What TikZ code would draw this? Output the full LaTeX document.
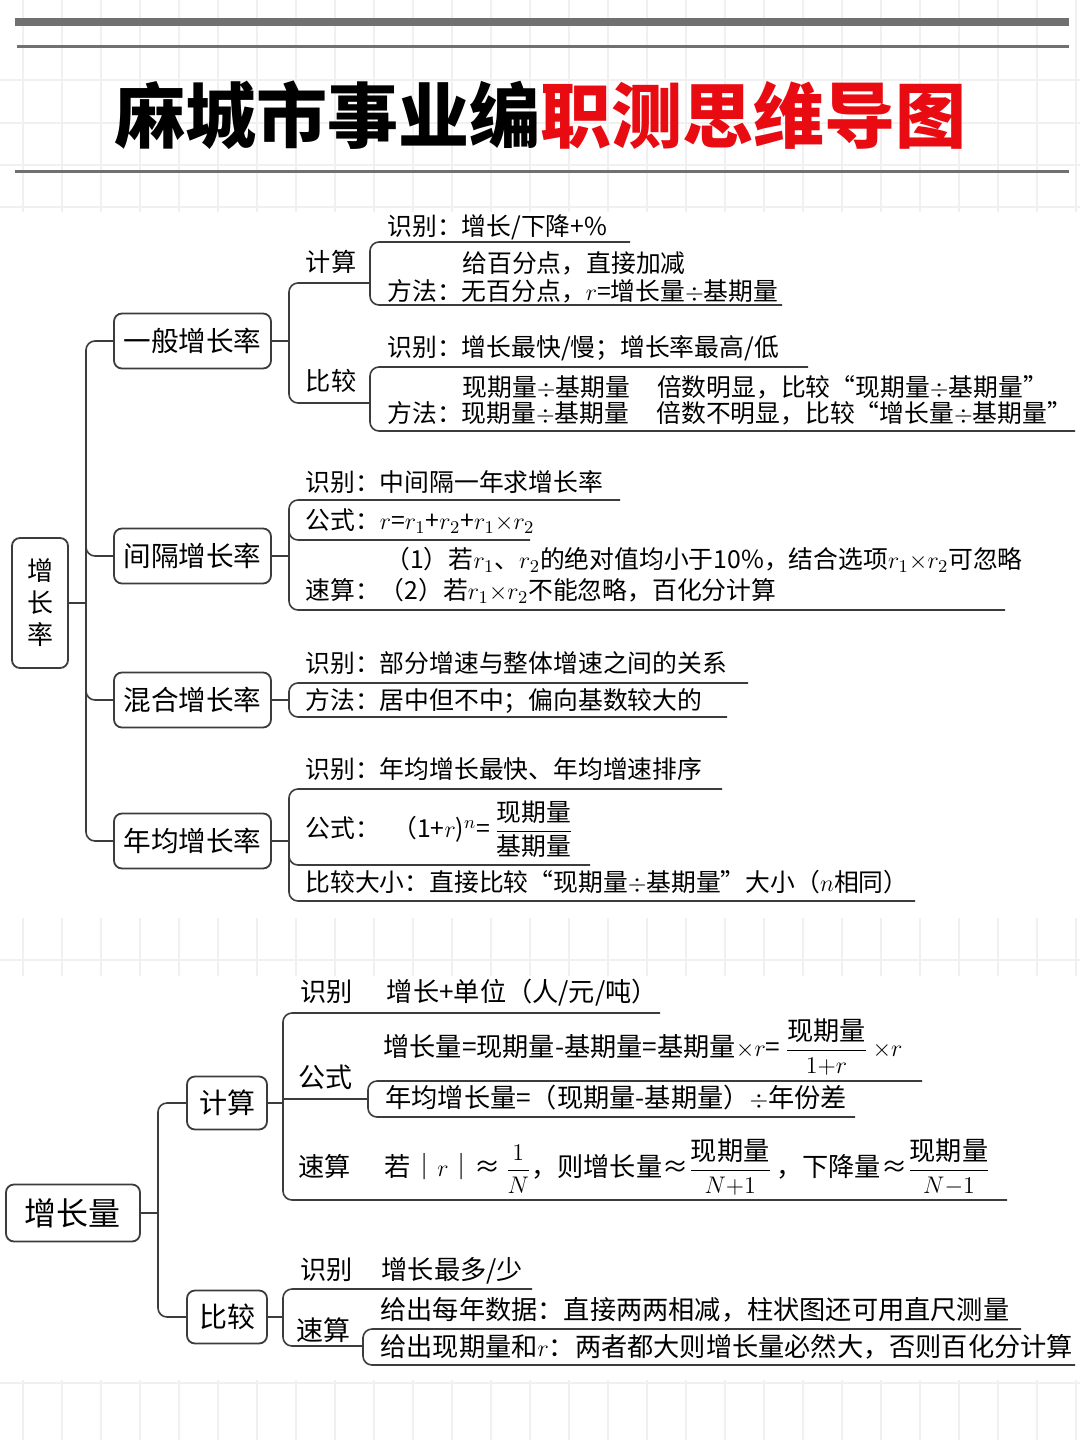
\documentclass[tikz,border=0pt]{standalone}
\usepackage{amsmath}
\usepackage{fontspec}
\setmainfont{Noto Sans CJK SC}
\usetikzlibrary{positioning}
\definecolor{linegray}{RGB}{60, 60, 60}
\definecolor{rulegray}{RGB}{112, 112, 112}
\definecolor{gridgray}{RGB}{240, 240, 240}
\definecolor{titlered}{RGB}{232, 12, 18}
\newcommand{\dv}{\ensuremath{{\div}}}
\newcommand{\tm}{\ensuremath{{\times}}}

\begin{document}
\begin{tikzpicture}[x=0.5pt, y=-0.5pt,
    link/.style={draw=linegray, line width=0.8pt, rounded corners=4.5pt},
    topic/.style={draw=linegray, line width=0.9pt, rounded corners=4pt, inner sep=0pt, align=center},
    tag/.style={inner sep=0pt, text height=0.88em, text depth=0.12em, font=\fontsize{12.6}{15}\selectfont},
    tagb/.style={tag, font=\fontsize{13.5}{16}\selectfont},
    leaf/.style={anchor=west, inner sep=0pt, text height=0.88em, text depth=0.12em, font=\fontsize{12.4}{15}\selectfont},
    leafb/.style={leaf, font=\fontsize{13.1}{16}\selectfont},
    fracleaf/.style={anchor=west, inner sep=0pt, font=\fontsize{12.4}{15}\selectfont},
    fracleafb/.style={fracleaf, font=\fontsize{13.1}{16}\selectfont}]
    \useasboundingbox (0,0) rectangle (1080,1440);
    \fill[white] (0,0) rectangle (1080,1440);

    % background grid, only where the page is empty
    \foreach \gx in {23,62,...,1080} {
        \draw[gridgray, line width=0.8pt] (\gx,0) -- (\gx,212);
        \draw[gridgray, line width=0.8pt] (\gx,918) -- (\gx,976);
        \draw[gridgray, line width=0.8pt] (\gx,1380) -- (\gx,1440);
    }
    \foreach \gy in {80,123,165,207,960,1383}
        \draw[gridgray, line width=0.8pt] (0,\gy) -- (1080,\gy);

    % title
    \draw[rulegray, line width=4pt] (15,22) -- (1069,22);
    \draw[rulegray, line width=1.5pt] (17,46) -- (1069,46);
    \draw[rulegray, line width=1.5pt] (15,171) -- (1069,171);
    \node[font=\fontsize{35.5}{40}\selectfont\bfseries, inner sep=0pt] (title) at (540,115)
        {麻城市事业编{\color{titlered}职测思维导图}};

    % ---- 增长率 ----
    \node[topic, minimum width=28pt, minimum height=65pt, font=\fontsize{13}{16}\selectfont] (zzl) at (40,603) {增\\长\\率};
    \node[topic, minimum width=78.5pt, minimum height=27.5pt, font=\fontsize{13.8}{16}\selectfont] (gen) at (192.5,341) {一般增长率};
    \node[topic, minimum width=78.5pt, minimum height=27.5pt, font=\fontsize{13.8}{16}\selectfont] (gap) at (192.5,556) {间隔增长率};
    \node[topic, minimum width=78.5pt, minimum height=27.5pt, font=\fontsize{13.8}{16}\selectfont] (mix) at (192.5,700) {混合增长率};
    \node[topic, minimum width=78.5pt, minimum height=27.5pt, font=\fontsize{13.8}{16}\selectfont] (avg) at (192.5,841) {年均增长率};

    \draw[link] (zzl.east) -- (86,603);
    \draw[link] (gen.west) -| (86,603) |- (avg.west);
    \draw[link] (86,530) |- (gap.west);
    \draw[link] (86,675) |- (mix.west);

    % 一般增长率
    \draw[link] (gen.east) -- (289,341);
    \draw[link] (370,283) -| (289,341) |- (370,403);
    \node[tag] (genjs) at (331,264) {计算};
    \node[tag] (genbj) at (331,383) {比较};
    \draw[link] (630,242) -| (370,273) |- (782,305);
    \draw[link] (808,367) -| (370,400) |- (1075,431);
    \node[leaf] (gen1) at (387,228) {识别：增长/下降+\%};
    \node[leaf] (gen2) at (462,265) {给百分点，直接加减};
    \node[leaf] (gen3) at (387,293) {方法：无百分点，$r$=增长量\dv 基期量};
    \node[leaf] (gen4) at (387,349) {识别：增长最快/慢；增长率最高/低};
    \node[leaf] (gen5) at (462,389) {现期量\dv 基期量\hspace{1.1em}倍数明显，比较“现期量\dv 基期量”};
    \node[leaf] (gen6) at (387,415) {方法：现期量\dv 基期量\hspace{1.1em}倍数不明显，比较“增长量\dv 基期量”};

    % 间隔增长率
    \draw[link] (gap.east) -- (289,556);
    \draw[link] (620,500) -| (289,556) |- (1005,610);
    \draw[link] (289,520) |- (530,540);
    \node[leaf] (gap1) at (305,484) {识别：中间隔一年求增长率};
    \node[leaf] (gap2) at (305,522) {公式：$r$=$r_1$+$r_2$+$r_1$\tm$r_2$};
    \node[leaf] (gap3) at (385,561) {（1）若$r_1$、$r_2$的绝对值均小于10\%，结合选项$r_1$\tm$r_2$可忽略};
    \node[leaf] (gap4) at (305,592) {速算：（2）若$r_1$\tm$r_2$不能忽略，百化分计算};

    % 混合增长率
    \draw[link] (mix.east) -- (289,700);
    \draw[link] (748,683) -| (289,700) |- (727,717);
    \node[leaf] (mix1) at (305,665) {识别：部分增速与整体增速之间的关系};
    \node[leaf] (mix2) at (305,702) {方法：居中但不中；偏向基数较大的};

    % 年均增长率
    \draw[link] (avg.east) -- (289,841);
    \draw[link] (722,789) -| (289,841) |- (915,901);
    \draw[link] (289,840) |- (590,865);
    \node[leaf] (avg1) at (305,771) {识别：年均增长最快、年均增速排序};
    \node[fracleaf] (avg2) at (305,829) {公式：\hspace{0.5em}（1+$r$)$^n$=\,$\dfrac{\text{现期量}}{\text{基期量}}$};
    \node[leaf] (avg3) at (305,884) {比较大小：直接比较“现期量\dv 基期量”大小（$n$相同）};

    % ---- 增长量 ----
    \node[topic, minimum width=67pt, minimum height=28.5pt, font=\fontsize{16}{18}\selectfont] (zzlq) at (73,1213) {增长量};
    \node[topic, minimum width=40pt, minimum height=26.5pt, font=\fontsize{14}{16}\selectfont] (calc) at (227,1103) {计算};
    \node[topic, minimum width=40pt, minimum height=26.5pt, font=\fontsize{14}{16}\selectfont] (cmp) at (227,1317) {比较};

    \draw[link] (zzlq.east) -- (158,1213);
    \draw[link] (calc.west) -| (158,1213) |- (cmp.west);

    % 计算
    \draw[link] (calc.east) -- (283,1103);
    \draw[link] (660,1013) -| (283,1103) |- (1007,1200);
    \draw[link] (283,1099) -- (368,1099);
    \draw[link] (922,1081) -| (368,1099) |- (855,1117);
    \node[tagb] (calcgs) at (325,1080) {公式};
    \node[leafb] (calc1) at (300,994) {识别\hspace{1.3em}增长+单位（人/元/吨）};
    \node[fracleafb] (calc2) at (383,1047) {增长量=现期量-基期量=基期量\tm$r$=\,$\dfrac{\text{现期量}}{1{+}r}$\,\tm$r$};
    \node[leafb] (calc3) at (385,1100) {年均增长量=（现期量-基期量）\dv 年份差};
    \node[fracleafb] (calc4) at (298,1167) {速算\hspace{1.3em}若｜$r$｜≈\,$\dfrac{1}{N}$，则增长量≈$\dfrac{\text{现期量}}{N{+}1}$\,，下降量≈$\dfrac{\text{现期量}}{N{-}1}$};

    % 比较
    \draw[link] (cmp.east) -- (283,1317);
    \draw[link] (532,1289) -| (283,1317) |- (363,1346);
    \draw[link] (1021,1329) -| (363,1346) |- (1075,1365);
    \node[tagb] (cmpss) at (323,1333) {速算};
    \node[leafb] (cmp1) at (300,1272) {识别\hspace{1.1em}增长最多/少};
    \node[leafb] (cmp2) at (380,1312) {给出每年数据：直接两两相减，柱状图还可用直尺测量};
    \node[leafb] (cmp3) at (380,1349) {给出现期量和$r$：两者都大则增长量必然大，否则百化分计算};
\end{tikzpicture}
\end{document}
